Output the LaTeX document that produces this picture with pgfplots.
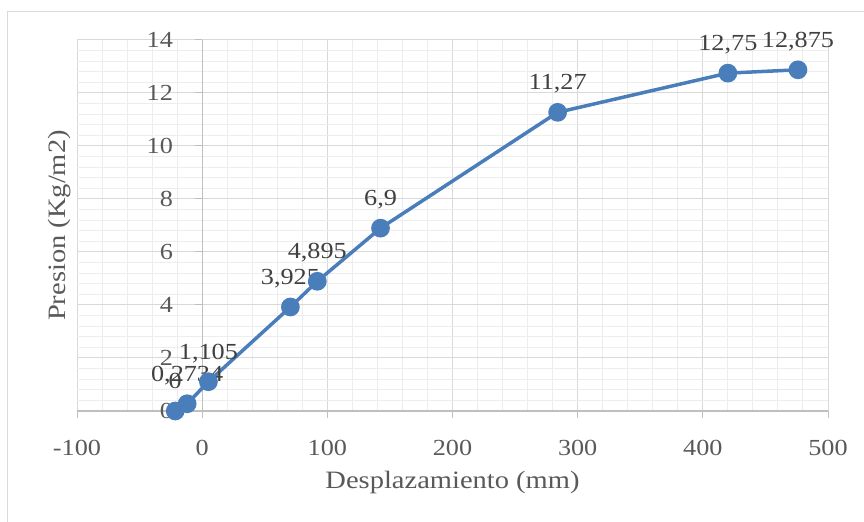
\documentclass[border=0pt]{standalone}
\usepackage{pgfplots}
\pgfplotsset{compat=1.18}
\usepackage{fontspec}
\setmainfont[FakeStretch=1.14]{Liberation Serif}
\definecolor{serie}{HTML}{4A7EBB}
\definecolor{framec}{HTML}{D9D9D9}
\definecolor{gridmaj}{HTML}{D9D9D9}
\definecolor{gridmin}{HTML}{EDEDED}
\definecolor{axisc}{HTML}{BFBFBF}
\definecolor{tickc}{HTML}{595959}
\definecolor{labc}{HTML}{404040}
\begin{document}
\begin{tikzpicture}
\useasboundingbox (0,0) rectangle (864bp,522bp);
\draw[color=framec, line width=1bp] (7.5bp,-5bp) -- (7.5bp,510.5bp) -- (870bp,510.5bp);
\begin{axis}[
  at={(77bp,111bp)}, anchor=south west,
  scale only axis, width=751bp, height=371bp,
  xmin=-100, xmax=500, ymin=0, ymax=14,
  axis lines*=middle,
  hide obscured x ticks=false, hide obscured y ticks=false,
  xtick={-100,0,...,500}, ytick={0,2,...,14},
  minor x tick num=4, minor y tick num=4,
  grid=both,
  major grid style={color=gridmaj, line width=1bp},
  minor grid style={color=gridmin, line width=1bp},
  axis line style={color=axisc, line width=1.2bp},
  tick style={color=axisc, line width=1bp},
  major tick length=7bp, minor tick length=0pt,
  tick align=outside,
  clip=false,
  /pgf/number format/assume math mode=true,
  ticklabel style={font=\fontsize{23bp}{27bp}\selectfont, text=tickc},
  xticklabel style={anchor=center, inner sep=0pt, yshift=-30bp},
  yticklabel style={anchor=east, inner sep=0pt, xshift=-22bp},
  xlabel={Desplazamiento (mm)}, ylabel={Presion (Kg/m2)},
  every axis x label/.style={at={(axis description cs:0.5,-0.19137)}, anchor=center, font=\fontsize{25bp}{30bp}\selectfont, text=tickc},
  every axis y label/.style={at={(axis description cs:-0.02264,0.5)}, anchor=center, rotate=90, font=\fontsize{25bp}{30bp}\selectfont, text=tickc},
]
\addplot[color=serie, line width=3.5bp, mark=*, mark size=7.6bp,
  mark options={fill=serie, draw=none},
  nodes near coords, point meta=explicit symbolic,
  every node near coord/.append style={anchor=base, yshift=22.4bp, inner sep=0pt, font=\fontsize{23bp}{27bp}\selectfont, text=labc}]
  table[meta=lab] {
x y lab
-21.5 0 0
-12 0.2734 0,2734
5 1.105 1,105
70.5 3.925 3,925
92 4.895 4,895
142.5 6.9 6,9
284 11.27 11,27
420 12.75 12,75
476 12.875 12,875
};
\end{axis}
\end{tikzpicture}
\end{document}
